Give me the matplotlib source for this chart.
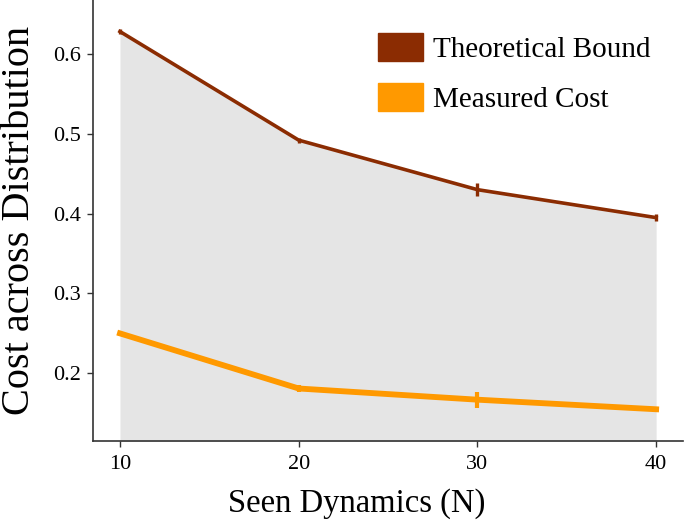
import matplotlib
matplotlib.use("Agg")
import matplotlib.pyplot as plt
from matplotlib.patches import Patch

x = [10, 20, 30, 40]
theoretical = [0.628, 0.492, 0.430, 0.395]
theoretical_err = [0.003, 0.003, 0.008, 0.004]
measured = [0.250, 0.181, 0.167, 0.155]
measured_err = [0.003, 0.005, 0.010, 0.003]
xticks = [10, 20, 30, 40]
yticks = [0.2, 0.3, 0.4, 0.5, 0.6]

plt.rcParams['font.family'] = ['Liberation Serif']
fig = plt.figure(figsize=(6.85, 5.24), dpi=100)
ax = fig.add_axes([0.136, 0.158, 0.861, 0.842])

c_theo = '#8B2C02'
c_meas = '#FF9900'

ax.fill_between(x, 0, theoretical, color='#e5e5e5', zorder=0, linewidth=0)
ax.errorbar(x, theoretical, yerr=theoretical_err, color=c_theo, lw=2.6, capsize=0, elinewidth=2.4, zorder=3)
ax.errorbar(x, measured, yerr=measured_err, color=c_meas, lw=4.2, capsize=0, elinewidth=3.0, zorder=3)

ax.set_xlim(8.5, 41.5)
ax.set_ylim(0.115, 0.6675)
ax.set_xticks(xticks)
ax.set_yticks(yticks)
ax.set_yticklabels([f'{v:.1f}' for v in yticks])
ax.tick_params(labelsize=16, direction='out', length=4, width=1, color='#333333')
ax.tick_params(axis='x', pad=6)
ax.tick_params(axis='y', pad=5)
for s in ['top', 'right']:
    ax.spines[s].set_visible(False)
for s in ['left', 'bottom']:
    ax.spines[s].set_color('#333333')
    ax.spines[s].set_linewidth(1.2)

ax.set_xlabel('Seen Dynamics (N)', fontsize=23.5, labelpad=4)
ax.xaxis.set_label_coords(0.446, -0.106)
ax.set_ylabel('Cost across Distribution', fontsize=29, labelpad=11)

handles = [Patch(facecolor=c_theo, edgecolor=c_theo, label='Theoretical Bound'),
           Patch(facecolor=c_meas, edgecolor=c_meas, label='Measured Cost')]
ax.legend(handles=handles, loc='upper left', frameon=False, fontsize=21,
          handlelength=1.54, handleheight=1.1, labelspacing=0.7, handletextpad=0.34,
          borderpad=0, borderaxespad=0, bbox_to_anchor=(0.483, 0.926))

fig.savefig('out.png', dpi=100)
